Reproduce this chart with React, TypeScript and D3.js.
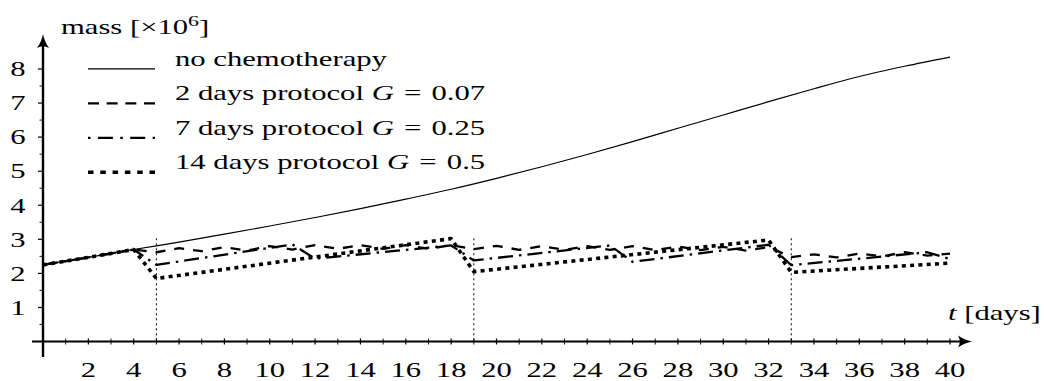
import * as d3 from 'd3'

// chart data (mass in units of 10^6, time in days)
const noChemoDays = [0, 2, 4, 6, 8, 10, 12, 14, 16, 18, 20, 22, 24, 26, 28, 30, 32, 34, 36, 38, 40]
const noChemoMass = [2.25, 2.47, 2.7, 2.92, 3.15, 3.39, 3.64, 3.9, 4.18, 4.47, 4.79, 5.13, 5.49, 5.87, 6.26, 6.65, 7.04, 7.42, 7.78, 8.08, 8.35]

const twoDayDays = [0, 2, 4, 5, 6, 7, 8, 9, 10, 11, 12, 13, 14, 15, 16, 17, 18, 19, 20, 21, 22, 23, 24, 25, 26, 27, 28, 29, 30, 31, 32, 33, 34, 35, 36, 37, 38, 39, 40]
const twoDayMass = [2.25, 2.47, 2.7, 2.62, 2.74, 2.65, 2.77, 2.67, 2.8, 2.7, 2.83, 2.72, 2.83, 2.72, 2.83, 2.72, 2.83, 2.71, 2.81, 2.69, 2.8, 2.69, 2.8, 2.69, 2.8, 2.68, 2.79, 2.68, 2.78, 2.67, 2.77, 2.48, 2.56, 2.47, 2.58, 2.5, 2.62, 2.52, 2.58]

const sevenDayDays = [0, 2, 4, 5, 11, 12, 18, 19, 25, 26, 32, 33, 39, 40]
const sevenDayMass = [2.25, 2.47, 2.7, 2.25, 2.85, 2.43, 2.82, 2.38, 2.82, 2.34, 2.84, 2.24, 2.62, 2.42]

const fourteenDayDays = [0, 2, 4, 5, 18, 19, 32, 33, 40]
const fourteenDayMass = [2.25, 2.47, 2.7, 1.85, 3.02, 2.05, 2.98, 2.03, 2.3]

const doseDays = [5, 19, 33]
const doseGuideTop = 3.03

const xTickLabels = [2, 4, 6, 8, 10, 12, 14, 16, 18, 20, 22, 24, 26, 28, 30, 32, 34, 36, 38, 40]
const yTickLabels = [1, 2, 3, 4, 5, 6, 7, 8]

const legendNames = ['no chemotherapy', '2 days protocol', '7 days protocol', '14 days protocol']
const legendG = ['', '0.07', '0.25', '0.5']

const W = 1044
const H = 381
const FONT = "'Liberation Serif', 'Times New Roman', serif"
const SX = 1.46 // the original figure is stretched horizontally

const x = d3.scaleLinear().domain([0, 40]).range([43, 950])
const y = d3.scaleLinear().domain([0, 8]).range([341.5, 69])

const zip = (a: number[], b: number[]) => a.map((d, i) => [d, b[i]] as [number, number])

const line = d3.line<[number, number]>().x(d => x(d[0])).y(d => y(d[1]))
const smooth = d3.line<[number, number]>().x(d => x(d[0])).y(d => y(d[1])).curve(d3.curveMonotoneX)

const series = [
  { pts: zip(noChemoDays, noChemoMass), width: 1.2, dash: undefined as string | undefined, legendDash: undefined as string | undefined, curve: smooth },
  { pts: zip(twoDayDays, twoDayMass), width: 2.3, dash: '10 9', legendDash: '11 7.67', curve: line },
  { pts: zip(sevenDayDays, sevenDayMass), width: 2.3, dash: '15 6 2.5 6', legendDash: '2.5 7.4 15 7.4', curve: line },
  { pts: zip(fourteenDayDays, fourteenDayMass), width: 3.6, dash: '4 4.3', legendDash: '5.5 6.8', curve: line },
]

function Txt({ x0, y0, anchor = 'start', size = 21, children }: any) {
  return (
    <text
      transform={`translate(${x0},${y0}) scale(${SX},1)`}
      textAnchor={anchor}
      fontFamily={FONT}
      fontSize={size}
      fill="#000"
    >
      {children}
    </text>
  )
}

export default function App() {
  const x0 = x(0)
  const y0 = y(0)
  const xMinor = d3.range(1, 41)
  const yMinor = d3.range(0.5, 8.01, 0.5)
  const legendY = [65.5, 100, 134.5, 169]

  return (
    <svg width={W} height={H} viewBox={`0 0 ${W} ${H}`}
      style={{ position: 'absolute', left: 0, top: 0, background: '#fff' }}>
      {/* dose guides */}
      {doseDays.map(d => (
        <line key={d} x1={x(d)} x2={x(d)} y1={y(doseGuideTop)} y2={y0}
          stroke="#000" strokeWidth={1} strokeDasharray="2 3" />
      ))}

      {/* series */}
      {series.map((s, i) => (
        <path key={i} d={s.curve(s.pts) || ''} fill="none" stroke="#000"
          strokeWidth={s.width} strokeDasharray={s.dash} strokeLinejoin="round" />
      ))}

      {/* axes */}
      <line x1={32} x2={962} y1={y0} y2={y0} stroke="#000" strokeWidth={2} />
      <line x1={x0} x2={x0} y1={357} y2={46} stroke="#000" strokeWidth={2.4} />
      <path transform={`translate(972,${y0}) rotate(90)`}
        d="M0,0 C1,5 3,10 6,14 Q0,10.5 -6,14 C-3,10 -1,5 0,0 Z" fill="#000" />
      <path transform={`translate(${x0},34)`}
        d="M0,0 C1,5 3,10 6,14 Q0,10.5 -6,14 C-3,10 -1,5 0,0 Z" fill="#000" />

      {xMinor.map(t => (
        <line key={'xt' + t} x1={x(t)} x2={x(t)} y1={y0 - 3} y2={y0 + 3}
          stroke="#000" strokeWidth={t % 2 === 0 ? 1.2 : 0.9} />
      ))}
      {yMinor.map(v => (
        <line key={'yt' + v} x1={x0 - (v % 1 === 0 ? 5 : 3.5)} x2={x0} y1={y(v)} y2={y(v)}
          stroke="#000" strokeWidth={v % 1 === 0 ? 1.2 : 0.9} />
      ))}

      {xTickLabels.map(t => (
        <Txt key={'xl' + t} x0={x(t)} y0={376.5} anchor="middle">{t}</Txt>
      ))}
      {yTickLabels.map(v => (
        <Txt key={'yl' + v} x0={25.5} y0={y(v) + 7.3} anchor="end">{v}</Txt>
      ))}

      <Txt x0={61} y0={33.5}>
        mass [×10<tspan fontSize={15} dy={-8}>6</tspan><tspan dy={8}>]</tspan>
      </Txt>
      <Txt x0={948} y0={320}>
        <tspan fontStyle="italic">t</tspan> [days]
      </Txt>

      {/* legend */}
      {series.map((s, i) => (
        <g key={'lg' + i}>
          <line x1={88} x2={155} y1={legendY[i] + 3.3} y2={legendY[i] + 3.3} stroke="#000"
            strokeWidth={s.width} strokeDasharray={s.legendDash} />
          <Txt x0={175} y0={legendY[i]}>
            {legendNames[i]}
            {legendG[i] && (
              <>
                {' '}<tspan fontStyle="italic">G</tspan>{'\u2004=\u2004'}{legendG[i]}
              </>
            )}
          </Txt>
        </g>
      ))}
    </svg>
  )
}
